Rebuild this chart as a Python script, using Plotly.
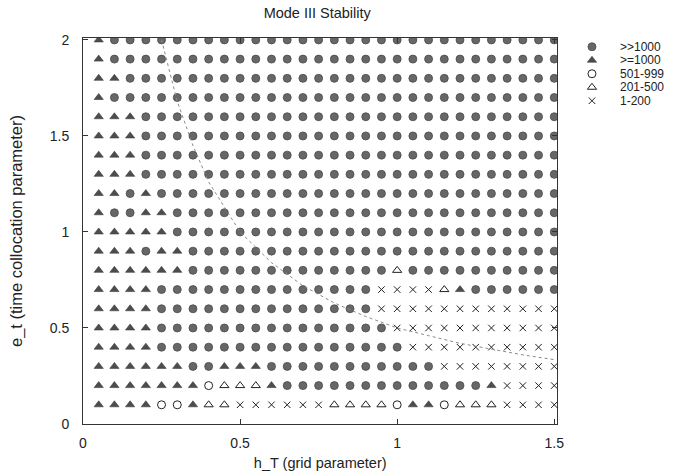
import plotly.graph_objects as go

# ---- data ----
h_values = [round(0.05 * (i + 1), 2) for i in range(30)]          # 0.05 .. 1.50
e_values = [2.0, 1.9, 1.8, 1.7, 1.6, 1.5, 1.4, 1.3, 1.2, 1.1,
            1.0, 0.9, 0.8, 0.7, 0.6, 0.5, 0.4, 0.3, 0.2, 0.1]

# codes per row (top row e=2.0 first), one char per h value
# C: >>1000, T: >=1000, o: 501-999, t: 201-500, x: 1-200
stability_rows = [
    "TCCCCCCCCCCCCCCCCCCCCCCCCCCCCC",   # 2.0
    "TCCCCCCCCCCCCCCCCCCCCCCCCCCCCC",   # 1.9
    "TTCCCCCCCCCCCCCCCCCCCCCCCCCCCC",   # 1.8
    "TCCCCCCCCCCCCCCCCCCCCCCCCCCCCC",   # 1.7
    "TTTCCCCCCCCCCCCCCCCCCCCCCCCCCC",   # 1.6
    "TTTCCCCCCCCCCCCCCCCCCCCCCCCCCC",   # 1.5
    "TTTCCCCCCCCCCCCCCCCCCCCCCCCCCC",   # 1.4
    "TTTCCCCCCCCCCCCCCCCCCCCCCCCCCC",   # 1.3
    "TTCTCCCCCCCCCCCCCCCCCCCCCCCCCC",   # 1.2
    "TCCTTCCCCCCCCCCCCCCCCCCCCCCCCC",   # 1.1
    "TTTTTCCCCCCCCCCCCCCCCCCCCCCCCC",   # 1.0
    "TTTCTTCCCCCCCCCCCCCCCCCCCCCCCC",   # 0.9
    "TTTTTTCCCCCCCCCCCCCtCCCCCCCCCC",   # 0.8
    "TTTTCCCCCCCCCCCCCCxxxxtTCCCCCC",   # 0.7
    "TTTTCCCCCCCCCCCCCCxxxxxxxxxxxx",   # 0.6
    "TTTTCCCCCCCCCCCCCCCxxxxxxxxxxx",   # 0.5
    "TTTTCCCCCCCCCCCCCCCCxxxxxxxxxx",   # 0.4
    "TTTTTTCCTTTCCCCCCCCCCCxxxxxxxx",   # 0.3
    "TTTTTTTotttTCCCCCCCCCCCCCTxxxx",   # 0.2
    "TTTTooTttxxxxxxttttoTTotttxxxx",   # 0.1
]

codes = ["C", "T", "o", "t", "x"]
labels = [">>1000", ">=1000", "501-999", "201-500", "1-200"]

# stability boundary (dotted curve)
curve_h = [0.25, 0.30, 0.35, 0.40, 0.50, 0.60, 0.70, 0.80, 0.90, 1.00, 1.10, 1.20, 1.30, 1.40, 1.50]
curve_e = [2.00, 1.68, 1.45, 1.26, 1.00, 0.84, 0.72, 0.63, 0.56, 0.50, 0.46, 0.42, 0.39, 0.36, 0.335]

# ---- styles ----
styles = {
    "C": dict(symbol="circle", size=8, color="#676767", line=dict(color="#4a4a4a", width=0.8)),
    "T": dict(symbol="triangle-up", size=8, color="#4d4d4d", line=dict(color="#3a3a3a", width=0.6)),
    "o": dict(symbol="circle-open", size=8, color="#222222", line=dict(width=1)),
    "t": dict(symbol="triangle-up-open", size=8, color="#222222", line=dict(width=1)),
    "x": dict(symbol="x-thin-open", size=6.5, color="#222222", line=dict(width=1)),
}

fig = go.Figure()

for k, code in enumerate(codes):
    xs, ys = [], []
    for r, e in enumerate(e_values):
        row = stability_rows[r]
        for c, h in enumerate(h_values):
            if row[c] == code:
                xs.append(h)
                ys.append(e)
    fig.add_trace(go.Scatter(x=xs, y=ys, mode="markers", marker=styles[code],
                             showlegend=False, name=labels[k]))

fig.add_trace(go.Scatter(x=curve_h, y=curve_e, mode="lines",
                         line=dict(color="#8a8a8a", width=1, dash="dot"),
                         showlegend=False, hoverinfo="skip"))

# ---- hand-made legend on its own small axes ----
legend_idx = list(range(len(codes)))
for i, code in enumerate(codes):
    fig.add_trace(go.Scatter(x=[0], y=[legend_idx[i]], mode="markers", marker=styles[code],
                             xaxis="x2", yaxis="y2", showlegend=False, hoverinfo="skip"))
    fig.add_annotation(x=1, y=legend_idx[i], xref="x2", yref="y2", text=labels[i],
                       showarrow=False, xanchor="left", yanchor="middle", borderpad=0,
                       font=dict(size=12, color="#222222"))

W, H = 682, 476
L, R, T, B = 83, 0, 38, 52
pw = W - L - R
main_w = 480
ph = H - T - B
leg_top, leg_step = 40, 13.5
leg_bot = leg_top + leg_step * len(codes)

font_family = "Liberation Sans, Arial, Helvetica, sans-serif"

fig.update_layout(
    width=W, height=H,
    margin=dict(l=L, r=R, t=T, b=B),
    paper_bgcolor="white", plot_bgcolor="white",
    font=dict(family=font_family, size=14, color="#222222"),
    title=dict(text="Mode III Stability", x=(320 - L) / pw, xref="paper", xanchor="center",
               y=1 - 13 / H, yref="container", yanchor="middle", font=dict(size=14.5)),
    xaxis=dict(domain=[0, main_w / pw], range=[0, 1.51], tickvals=[0, 0.5, 1, 1.5],
               ticktext=["0", "0.5", "1", "1.5"], tickfont=dict(size=14),
               showgrid=False, zeroline=False, showline=True, linecolor="#333333", linewidth=1,
               mirror="ticks", ticks="inside", ticklen=5, tickcolor="#333333",
               ticklabelstandoff=6,
               title=dict(text="h_T (grid parameter)", standoff=8, font=dict(size=14.5))),
    yaxis=dict(domain=[0, 1], range=[0, 2.01], tickvals=[0, 0.5, 1, 1.5, 2],
               ticktext=["0", "0.5", "1", "1.5", "2"], tickfont=dict(size=14),
               showgrid=False, zeroline=False, showline=True, linecolor="#333333", linewidth=1,
               mirror="ticks", ticks="inside", ticklen=5, tickcolor="#333333",
               ticklabelstandoff=10,
               title=dict(text="e_t (time collocation parameter)", standoff=22, font=dict(size=16.5))),
    xaxis2=dict(domain=[(588 - L) / pw, 1], range=[-10 / 27, 94 / 27 - 10 / 27],
                visible=False, anchor="y2", fixedrange=True),
    yaxis2=dict(domain=[(H - B - leg_bot) / ph, (H - B - leg_top) / ph],
                range=[len(codes) - 0.5, -0.5],
                visible=False, anchor="x2", fixedrange=True),
)

fig.write_html("out.html")
